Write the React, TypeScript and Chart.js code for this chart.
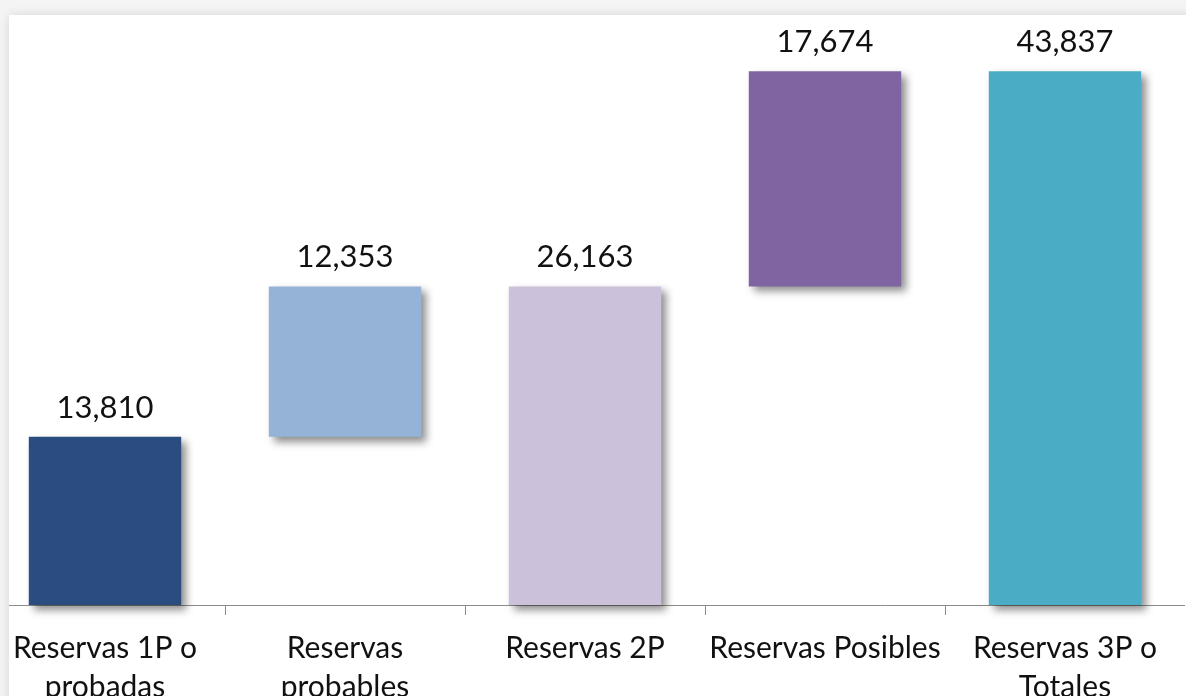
import React, { useEffect, useRef } from "react";
import { Chart, registerables } from "chart.js";

Chart.register(...registerables);

const categories: (string | string[])[] = [
  ["Reservas 1P o", "probadas"],
  ["Reservas", "probables"],
  "Reservas 2P",
  "Reservas Posibles",
  ["Reservas 3P o", "Totales"],
];
const values = [13810, 12353, 26163, 17674, 43837];
const bases = [0, 13810, 0, 26163, 0];
const colors = ["#2B4C7E", "#95B3D7", "#CCC1DA", "#8064A2", "#4BACC6"];

const FONT = "Lato, 'Open Sans', sans-serif";

const shadowPlugin = {
  id: "barShadow",
  beforeDatasetsDraw(chart: any) {
    const c = chart.ctx;
    c.save();
    c.shadowColor = "rgba(0,0,0,0.45)";
    c.shadowBlur = 8;
    c.shadowOffsetX = 5;
    c.shadowOffsetY = 5;
  },
  afterDatasetsDraw(chart: any) {
    chart.ctx.restore();
  },
};

const labelPlugin = {
  id: "valueLabels",
  afterDatasetsDraw(chart: any) {
    const c = chart.ctx;
    const meta = chart.getDatasetMeta(0);
    c.save();
    c.font = `31px ${FONT}`;
    c.fillStyle = "#111111";
    c.textAlign = "center";
    c.textBaseline = "middle";
    meta.data.forEach((el: any, i: number) => {
      c.fillText(values[i].toLocaleString("en-US"), el.x, el.y - 29);
    });
    c.restore();
  },
};

export default function App() {
  const ref = useRef<HTMLCanvasElement | null>(null);
  useEffect(() => {
    document.body.style.margin = "0";
    if (!ref.current) return;
    const chart = new Chart(ref.current, {
      type: "bar",
      data: {
        labels: categories as any,
        datasets: [
          {
            data: values.map((v, i) => [bases[i], bases[i] + v]) as any,
            backgroundColor: colors,
            borderWidth: 0,
            categoryPercentage: 1,
            barPercentage: 0.635,
            clip: false as any,
          },
        ],
      },
      options: {
        responsive: false,
        animation: false,
        devicePixelRatio: 1,
        layout: { padding: { left: 16, right: 0, top: 57, bottom: 14 } },
        plugins: { legend: { display: false }, tooltip: { enabled: false } },
        scales: {
          y: { display: false, min: 0, max: 45000 },
          x: {
            offset: true,
            grid: {
              offset: true,
              drawOnChartArea: false,
              drawTicks: true,
              tickLength: 10,
              color: "#8c8c8c",
              lineWidth: 1,
            },
            border: { display: true, color: "#8c8c8c", width: 1 },
            ticks: {
              padding: 14,
              color: "#111111",
              maxRotation: 0,
              autoSkip: false,
              font: { family: FONT, size: 30, lineHeight: 1.3 },
            },
          },
        },
      },
      plugins: [shadowPlugin, labelPlugin],
    });
    return () => chart.destroy();
  }, []);

  return (
    <div
      style={{
        position: "fixed",
        left: 0,
        top: 0,
        width: 1186,
        height: 696,
        overflow: "hidden",
        background: "#f4f4f4",
      }}
    >
      <div
        style={{
          position: "absolute",
          left: 9,
          top: 15,
          width: 1220,
          height: 740,
          background: "#ffffff",
          boxShadow: "0 0 10px rgba(0,0,0,0.12)",
          overflow: "hidden",
        }}
      >
        <canvas
          ref={ref}
          width={1216}
          height={735}
          style={{ position: "absolute", left: -40, top: -15, width: 1216, height: 735 }}
        />
      </div>
    </div>
  );
}
